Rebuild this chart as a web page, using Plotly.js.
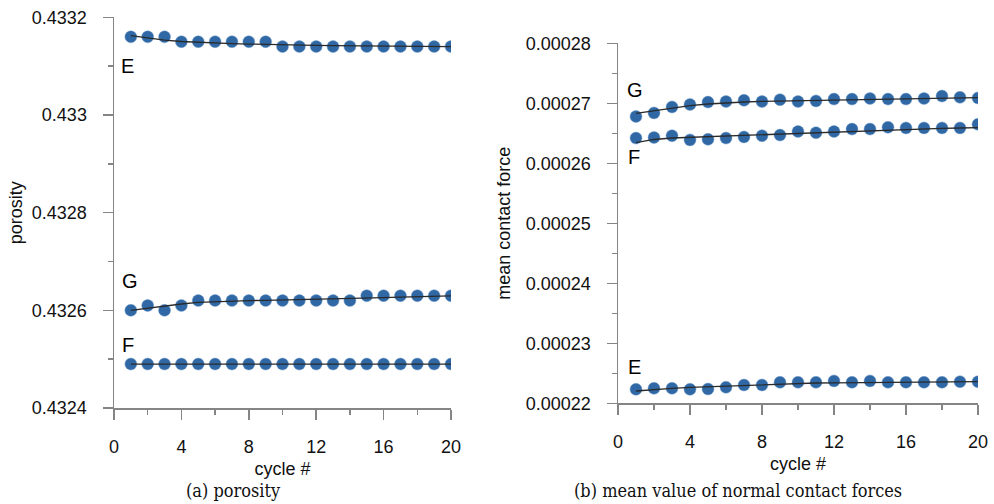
<!DOCTYPE html>
<html>
<head>
<meta charset="utf-8">
<script src="https://cdn.plot.ly/plotly-3.0.1.min.js"></script>
<style>html,body{margin:0;padding:0;background:#fff;}#chart{width:994px;height:504px;}</style>
</head>
<body>
<div id="chart"></div>
<script>
// ---- data ----
const cycles = [1,2,3,4,5,6,7,8,9,10,11,12,13,14,15,16,17,18,19,20];

// (a) porosity
const porosityE = [0.43316,0.43316,0.43316,0.43315,0.43315,0.43315,0.43315,0.43315,0.43315,0.43314,0.43314,0.43314,0.43314,0.43314,0.43314,0.43314,0.43314,0.43314,0.43314,0.43314];
const porosityF = [0.43249,0.43249,0.43249,0.43249,0.43249,0.43249,0.43249,0.43249,0.43249,0.43249,0.43249,0.43249,0.43249,0.43249,0.43249,0.43249,0.43249,0.43249,0.43249,0.43249];
const porosityG = [0.43260,0.43261,0.43260,0.43261,0.43262,0.43262,0.43262,0.43262,0.43262,0.43262,0.43262,0.43262,0.43262,0.43262,0.43263,0.43263,0.43263,0.43263,0.43263,0.43263];
const porosityTrendE = [0.4331627,0.4331575,0.4331534,0.4331504,0.4331487,0.4331473,0.4331463,0.4331452,0.4331442,0.4331432,0.4331428,0.4331424,0.4331420,0.4331415,0.4331411,0.4331409,0.4331405,0.4331403,0.4331401,0.4331399];
const porosityTrendF = [0.43249,0.43249,0.43249,0.43249,0.43249,0.43249,0.43249,0.43249,0.43249,0.43249,0.43249,0.43249,0.43249,0.43249,0.43249,0.43249,0.43249,0.43249,0.43249,0.43249];
const porosityTrendG = [0.4326000,0.4326047,0.4326088,0.4326129,0.4326164,0.4326179,0.4326189,0.4326199,0.4326205,0.4326211,0.4326220,0.4326226,0.4326234,0.4326242,0.4326253,0.4326261,0.4326269,0.4326277,0.4326285,0.4326294];

// (b) mean contact force
const forceE = [0.00022233,0.0002225,0.0002225,0.00022233,0.00022238,0.00022267,0.00022305,0.00022305,0.0002235,0.0002235,0.0002235,0.00022372,0.0002235,0.00022372,0.0002235,0.0002235,0.0002235,0.0002235,0.0002236,0.0002236];
const forceF = [0.0002642,0.0002643,0.0002646,0.0002639,0.0002640,0.0002642,0.0002644,0.0002646,0.0002647,0.0002653,0.0002651,0.0002653,0.0002657,0.0002657,0.0002660,0.0002659,0.0002659,0.0002659,0.0002659,0.0002665];
const forceG = [0.0002678,0.0002684,0.0002694,0.0002698,0.0002702,0.0002703,0.0002705,0.0002703,0.0002706,0.0002703,0.0002704,0.0002707,0.0002707,0.0002708,0.0002707,0.0002707,0.0002708,0.0002712,0.0002710,0.0002709];
const forceTrendE = [0.00022205,0.00022233,0.0002225,0.00022267,0.00022277,0.00022293,0.00022305,0.00022317,0.00022327,0.00022333,0.00022338,0.00022342,0.00022345,0.00022348,0.00022352,0.00022353,0.00022355,0.00022357,0.00022358,0.0002236];
const forceTrendF = [0.00026343,0.00026397,0.00026422,0.00026433,0.00026443,0.00026455,0.00026467,0.0002648,0.00026492,0.00026505,0.00026517,0.00026528,0.0002654,0.0002655,0.0002656,0.00026568,0.00026577,0.00026583,0.00026588,0.00026593];
const forceTrendG = [0.00026833,0.00026877,0.00026927,0.0002696,0.00026988,0.0002701,0.00027022,0.00027033,0.00027038,0.00027043,0.00027048,0.00027053,0.00027058,0.00027063,0.00027068,0.00027073,0.00027078,0.00027083,0.00027088,0.00027093];

const seriesLabels = ['E','F','G'];
const xTitle = 'cycle #';
const yTitleA = 'porosity';
const yTitleB = 'mean contact force';
const captionA = '(a) porosity';
const captionB = '(b) mean value of normal contact forces';

// ---- styles ----
const dotColor = '#2f68a4';
const trendColor = '#2a2a2a';
const axisColor = '#858585';
const sans = 'Liberation Sans, Arial, sans-serif';

function dots(y, xa, ya) {
  return {x: cycles, y: y, xaxis: xa, yaxis: ya, type: 'scatter', mode: 'markers',
    marker: {size: 12, color: dotColor, line: {width: 0.8, color: 'rgba(120,160,205,0.6)'}},
    showlegend: false, hoverinfo: 'x+y'};
}
function trend(y, xa, ya) {
  return {x: cycles, y: y, xaxis: xa, yaxis: ya, type: 'scatter', mode: 'lines',
    line: {color: trendColor, width: 1.3}, showlegend: false, hoverinfo: 'skip'};
}

const traces = [
  dots(porosityE,'x','y'), dots(porosityF,'x','y'), dots(porosityG,'x','y'),
  trend(porosityTrendE,'x','y'), trend(porosityTrendF,'x','y'), trend(porosityTrendG,'x','y'),
  dots(forceE,'x2','y2'), dots(forceF,'x2','y2'), dots(forceG,'x2','y2'),
  trend(forceTrendE,'x2','y2'), trend(forceTrendF,'x2','y2'), trend(forceTrendG,'x2','y2')
];

const W = 994, H = 504;
function xAxis(dom, anchor) {
  return {domain: dom, anchor: anchor, range: [0, 20], tick0: 0, dtick: 4,
    showline: true, linecolor: axisColor, linewidth: 1.5, showgrid: false, zeroline: false,
    ticks: 'outside', ticklen: 10, tickwidth: 1.5, tickcolor: axisColor,
    minor: {dtick: 2, tick0: 0, ticks: 'outside', ticklen: 5, tickwidth: 1.5, tickcolor: axisColor, showgrid: false},
    ticklabelstandoff: 12,
    tickfont: {family: sans, size: 18, color: '#111'},
    title: {text: xTitle, font: {family: sans, size: 18, color: '#111'}, standoff: 6},
    automargin: false, fixedrange: true};
}
function yAxis(dom, anchor, range, dtick, minorDtick, fmt, title, standoff) {
  return {domain: dom, anchor: anchor, range: range, tick0: range[0], dtick: dtick,
    showline: true, linecolor: axisColor, linewidth: 1.5, showgrid: false, zeroline: false,
    ticks: 'outside', ticklen: 10, tickwidth: 1.5, tickcolor: axisColor,
    minor: {dtick: minorDtick, tick0: range[0], ticks: 'outside', ticklen: 5, tickwidth: 1.5, tickcolor: axisColor, showgrid: false},
    ticklabelstandoff: 12, tickformat: fmt,
    tickfont: {family: sans, size: 18, color: '#111'},
    title: {text: title, font: {family: sans, size: 18, color: '#111'}, standoff: standoff},
    automargin: false, fixedrange: true};
}

const lblFont = {family: sans, size: 20, color: '#000'};
function lbl(text, x, y, xr, yr) {
  return {text: text, x: x, y: y, xref: xr, yref: yr, showarrow: false, font: lblFont, xanchor: 'center', yanchor: 'middle'};
}
const capFont = {family: 'DejaVu Serif Condensed, DejaVu Serif, serif', size: 18, color: '#111'};

const layout = {
  width: W, height: H,
  margin: {l: 0, r: 0, t: 0, b: 0},
  paper_bgcolor: '#fff', plot_bgcolor: 'rgba(0,0,0,0)',
  showlegend: false,
  xaxis: xAxis([114/W, 451/W], 'y'),
  yaxis: yAxis([1-408/H, 1-17.3/H], 'x', [0.4324, 0.4332], 0.0002, 0.0001, '.4~f', yTitleA, 4),
  xaxis2: xAxis([618/W, 978/W], 'y2'),
  yaxis2: yAxis([1-403.3/H, 1-43.3/H], 'x2', [0.00022, 0.00028], 0.00001, 0.000005, '.5f', yTitleB, 10),
  annotations: [
    lbl(seriesLabels[0], 0.83, 0.433101, 'x', 'y'),
    lbl(seriesLabels[2], 0.95, 0.4326606, 'x', 'y'),
    lbl(seriesLabels[1], 0.83, 0.4325300, 'x', 'y'),
    lbl(seriesLabels[2], 0.93, 0.00027222, 'x2', 'y2'),
    lbl(seriesLabels[1], 0.89, 0.00026113, 'x2', 'y2'),
    lbl(seriesLabels[0], 0.89, 0.00022597, 'x2', 'y2'),
    {text: captionA, x: 233.5/W, y: 1-490/H, xref: 'paper', yref: 'paper', showarrow: false, font: capFont, xanchor: 'center', yanchor: 'middle'},
    {text: captionB, x: 738/W, y: 1-490/H, xref: 'paper', yref: 'paper', showarrow: false, font: capFont, xanchor: 'center', yanchor: 'middle'}
  ]
};

Plotly.newPlot('chart', traces, layout, {staticPlot: true, displayModeBar: false});
</script>
</body>
</html>
